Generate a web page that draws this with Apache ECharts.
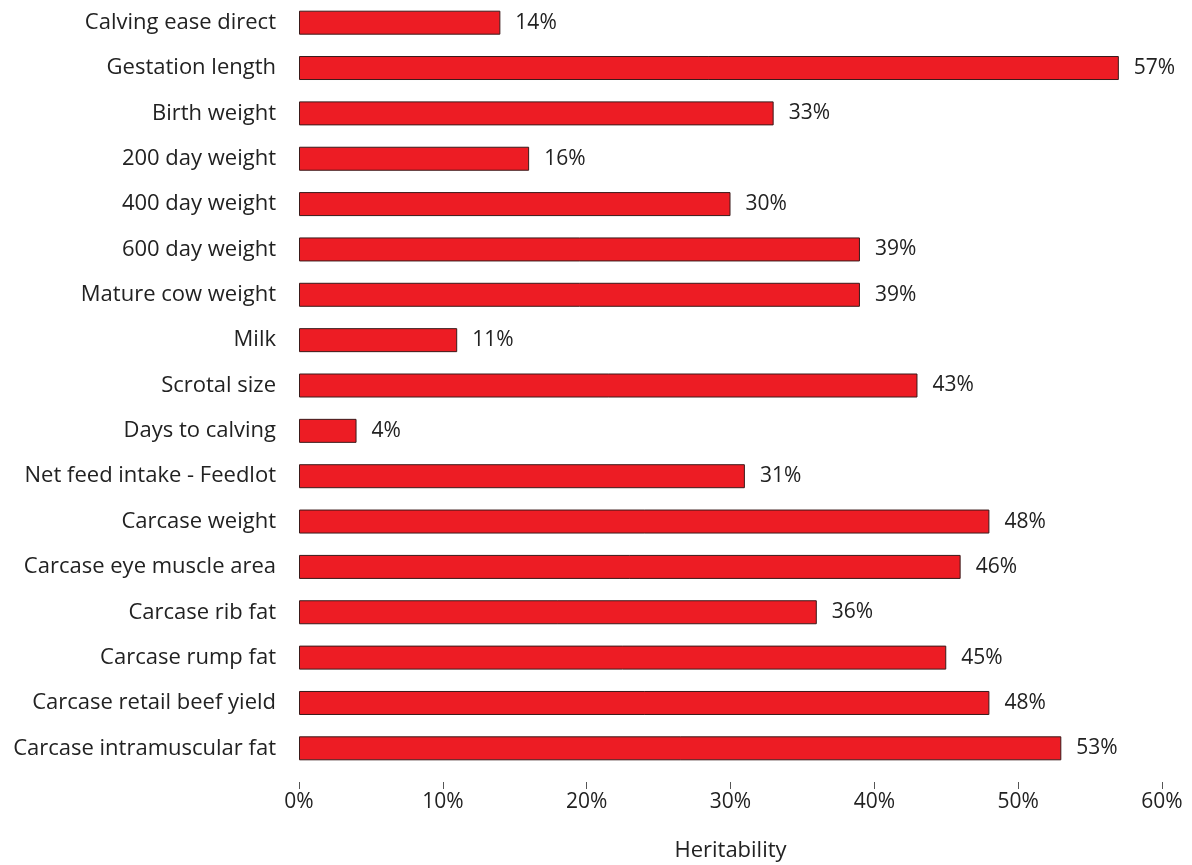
<!DOCTYPE html>
<html><head><meta charset="utf-8">
<script src="https://cdn.jsdelivr.net/npm/echarts@6/dist/echarts.min.js"></script>
<style>html,body{margin:0;padding:0;background:#fff}#c{width:1192px;height:865px}</style>
</head><body><div id="c"></div>
<script>
const categories = ["Calving ease direct","Gestation length","Birth weight","200 day weight","400 day weight","600 day weight","Mature cow weight","Milk","Scrotal size","Days to calving","Net feed intake - Feedlot","Carcase weight","Carcase eye muscle area","Carcase rib fat","Carcase rump fat","Carcase retail beef yield","Carcase intramuscular fat"];
const values = [14,57,33,16,30,39,39,11,43,4,31,48,46,36,45,48,53];
const xTicks = [0,10,20,30,40,50,60];
const axisName = "Heritability";

const chart = echarts.init(document.getElementById('c'), null, {renderer:'canvas'});
const font = 'Open Sans';
chart.setOption({
  animation:false,
  grid:{left:299, right:30, top:0, bottom:94, containLabel:false, outerBoundsMode:'none'},
  xAxis:{type:'value', min:xTicks[0], max:xTicks[xTicks.length-1], interval:10, offset:11,
    name:axisName, nameLocation:'middle', nameGap:58,
    nameTextStyle:{fontFamily:font, fontSize:22, color:'#222'},
    axisLine:{show:false}, axisTick:{show:true, length:7, lineStyle:{color:'#555'}},
    splitLine:{show:false},
    axisLabel:{formatter:'{value}%', fontFamily:font, fontSize:21, color:'#222', margin:10}},
  yAxis:{type:'category', data:categories, inverse:true,
    axisLine:{show:false}, axisTick:{show:false},
    axisLabel:{fontFamily:font, fontSize:22, color:'#222', margin:23, padding:[3,0,0,0]}},
  series:[{type:'bar', data:values, barWidth:24,
    itemStyle:{color:'#ED1C24', borderColor:'#3a1a1a', borderWidth:1},
    label:{show:true, position:'right', distance:15, padding:[3,0,0,0], formatter:'{c}%', fontFamily:font, fontSize:21, color:'#222'}}]
});
</script></body></html>
